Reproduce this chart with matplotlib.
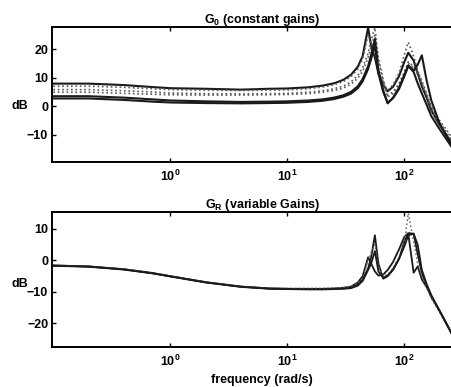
import numpy as np
import matplotlib
matplotlib.use("Agg")
from matplotlib import pyplot as plt
from matplotlib.ticker import NullLocator

plt.rcParams['font.family'] = ['Liberation Sans', 'DejaVu Sans']
plt.rcParams['font.weight'] = 'bold'
plt.rcParams['axes.titleweight'] = 'bold'
plt.rcParams['axes.labelweight'] = 'bold'
plt.rcParams['mathtext.fontset'] = 'custom'
plt.rcParams['mathtext.rm'] = 'Liberation Sans:bold'
plt.rcParams['mathtext.it'] = 'Liberation Sans:bold'
plt.rcParams['mathtext.default'] = 'regular'

# frequency grid (rad/s)
freq = [0.1, 0.2, 0.4, 0.7, 1, 2, 4, 7, 10, 15, 20, 25, 30, 35, 40, 44, 49, 52, 56,
        60, 66, 72, 80, 90, 100, 108, 120, 130, 141, 155, 170, 200, 256, 300]

# G0 (constant gains), dB
g0_a = [7.9, 7.9, 7.4, 6.7, 6.3, 6.1, 5.8, 6.1, 6.2, 6.6, 7.2, 8.0, 9.2, 11.0, 13.8, 17.5, 27.5, 21.0, 17.0,
        11.5, 7.5, 5.2, 6.8, 10.5, 15.5, 18.7, 16.0, 11.5, 7.0, 3.0, -1.5, -6.5, -13.0, -17.0]
g0_b = [7.0, 7.0, 6.6, 6.1, 5.8, 5.6, 5.5, 5.6, 5.7, 6.1, 6.7, 7.5, 8.6, 10.3, 13.0, 16.5, 25.0, 22.0, 18.5,
        12.5, 8.0, 5.5, 7.5, 11.5, 18.0, 22.4, 17.5, 12.5, 8.0, 4.0, -0.5, -5.0, -11.0, -15.0]
g0_c = [5.8, 5.8, 5.4, 5.0, 4.6, 4.4, 4.3, 4.4, 4.5, 4.9, 5.4, 6.1, 7.0, 8.5, 10.8, 13.5, 18.5, 23.0, 27.5,
        17.0, 9.5, 3.8, 5.0, 8.0, 12.0, 15.5, 14.0, 12.0, 9.0, 4.5, 0.0, -5.5, -12.0, -16.0]
g0_d = [4.9, 4.9, 4.5, 4.2, 4.0, 3.9, 3.9, 4.0, 4.1, 4.4, 4.9, 5.5, 6.3, 7.7, 9.8, 12.2, 17.0, 21.0, 25.0,
        16.0, 8.5, 3.2, 4.5, 7.5, 11.5, 15.0, 13.5, 11.0, 8.0, 3.5, -1.0, -6.5, -13.0, -17.0]
g0_e = [3.5, 3.5, 3.0, 2.4, 2.0, 1.7, 1.5, 1.6, 1.7, 2.0, 2.4, 3.0, 3.8, 5.0, 7.0, 9.5, 14.0, 18.0, 23.5,
        12.5, 5.5, 1.0, 3.0, 6.5, 11.0, 14.3, 12.5, 14.5, 17.8, 9.0, 2.0, -6.0, -14.0, -18.0]
g0_f = [2.7, 2.7, 2.2, 1.6, 1.3, 1.1, 1.0, 1.1, 1.2, 1.5, 1.9, 2.5, 3.3, 4.4, 6.3, 8.7, 13.0, 16.5, 21.5,
        11.5, 5.0, 1.2, 2.8, 6.0, 10.5, 14.0, 12.0, 8.0, 4.5, 0.5, -3.5, -8.0, -14.5, -18.0]

# GR (variable gains), dB
gr_a = [-1.6, -1.9, -2.8, -4.0, -5.0, -6.9, -8.3, -8.9, -9.0, -9.0, -9.0, -8.9, -8.7, -8.3, -7.0, -5.0, 1.0, -1.0, -3.5,
        -4.8, -4.5, -3.0, -0.5, 3.5, 7.5, 8.7, 8.5, 2.0, -4.0, -8.0, -11.5, -16.0, -23.5, -27.0]
gr_b = [-1.6, -1.9, -2.8, -4.0, -5.0, -6.9, -8.3, -8.9, -9.0, -9.1, -9.1, -9.0, -8.9, -8.6, -7.6, -6.0, -2.5, 1.0, 8.0,
        -1.0, -5.8, -5.0, -3.0, 0.5, 6.0, 8.5, -3.9, -1.9, -6.0, -8.5, -11.5, -16.0, -23.5, -27.0]
gr_c = [-1.5, -1.8, -2.7, -3.9, -4.9, -6.8, -8.2, -8.8, -8.9, -8.9, -8.9, -8.8, -8.6, -8.2, -7.3, -5.5, 0.0, 2.5, 5.0,
        -2.0, -5.0, -4.5, -2.5, 1.0, 5.5, 15.0, 6.0, -1.0, -5.0, -8.5, -12.0, -16.5, -23.0, -27.0]
gr_d = [-1.7, -2.0, -2.9, -4.1, -5.1, -7.0, -8.4, -9.0, -9.1, -9.2, -9.2, -9.1, -9.0, -8.8, -8.0, -6.5, -3.0, -1.0, 3.0,
        -3.5, -5.5, -4.8, -2.8, 0.5, 4.5, 8.0, 8.5, 5.0, -3.0, -7.5, -11.0, -16.0, -23.5, -27.0]

top_curves = [g0_a, g0_b, g0_c, g0_d, g0_e, g0_f]
top_styles = ['-', ':', ':', ':', '-', '-']
bot_curves = [gr_a, gr_b, gr_c, gr_d]
bot_styles = ['-', '-', ':', '-']
xtick_vals = [1, 10, 100]
xtick_labels = ['$10^0$', '$10^1$', '$10^2$']

fig = plt.figure(figsize=(4.52, 3.87), dpi=100)
ax1 = fig.add_axes([0.1157, 0.5822, 0.929, 0.3473])
ax2 = fig.add_axes([0.1157, 0.1041, 0.929, 0.3473])


def style_axis(ax, ylim, yticks, title):
    ax.set_xscale('log')
    ax.set_xlim(0.098, 380)
    ax.set_ylim(*ylim)
    ax.set_yticks(yticks)
    ax.set_xticks(xtick_vals)
    ax.set_xticklabels(xtick_labels)
    ax.xaxis.set_minor_locator(NullLocator())
    ax.tick_params(direction='in', top=True, right=True, length=3, width=1,
                   labelsize=9, pad=3)
    ax.tick_params(axis='x', pad=5)
    for s in ax.spines.values():
        s.set_linewidth(1.4)
    ax.set_title(title, fontsize=9, pad=3)
    ax.set_ylabel('dB', rotation=0, fontsize=9)
    ax.yaxis.set_label_coords(-0.077, 0.37)


for y, ls in zip(top_curves, top_styles):
    if ls == '-':
        ax1.plot(freq, y, color='0.1', lw=1.5, ls='-')
    else:
        ax1.plot(freq, y, color='0.35', lw=1.2, ls=':')
style_axis(ax1, (-19.4, 27.6), [-10, 0, 10, 20], r'G$_0$ (constant gains)')

for y, ls in zip(bot_curves, bot_styles):
    if ls == '-':
        ax2.plot(freq, y, color='0.1', lw=1.3, ls='-')
    else:
        ax2.plot(freq, y, color='0.4', lw=1.1, ls=':')
style_axis(ax2, (-27.4, 15.3), [-20, -10, 0, 10], r'G$_R$ (variable Gains)')
ax2.yaxis.set_label_coords(-0.077, 0.42)
ax2.set_xlabel('frequency (rad/s)', fontsize=9, labelpad=4)

fig.savefig('out.png', dpi=100)
